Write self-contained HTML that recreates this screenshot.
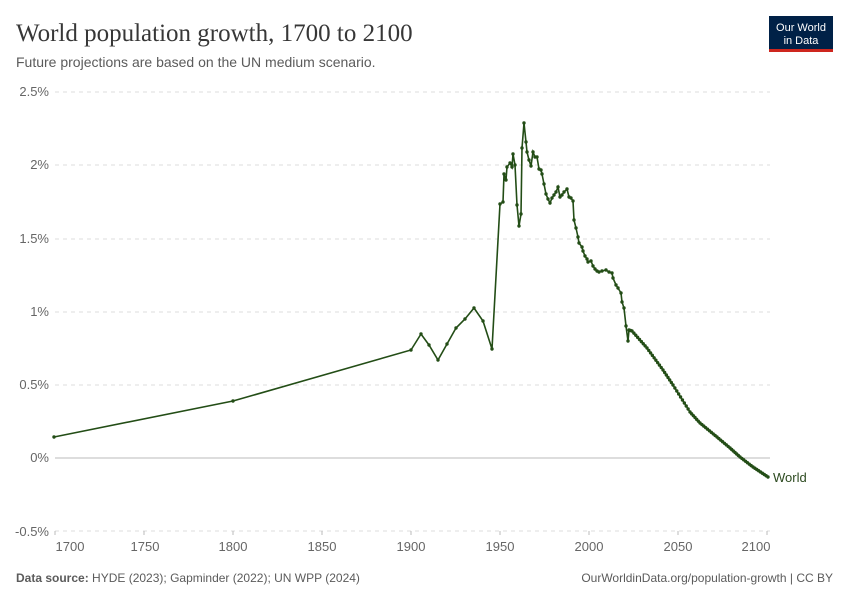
<!DOCTYPE html>
<html><head><meta charset="utf-8"><style>
body{margin:0;background:#fff;width:850px;height:600px;overflow:hidden;font-family:"Liberation Sans",sans-serif}
</style></head><body>
<svg width="850" height="600" xmlns="http://www.w3.org/2000/svg" id="s">
<text x="16" y="41" font-family="Liberation Serif,serif" font-size="25" fill="#373737">World population growth, 1700 to 2100</text>
<text x="16" y="67" font-size="14" fill="#5b5b5b">Future projections are based on the UN medium scenario.</text>
<rect x="769" y="16" width="64" height="34" fill="#002147"/>
<rect x="769" y="49" width="64" height="3" fill="#ce261e"/>
<text x="801" y="31" font-size="11" fill="#fff" text-anchor="middle">Our World</text>
<text x="801" y="44" font-size="11" fill="#fff" text-anchor="middle">in Data</text>
<g font-size="13" fill="#666" text-anchor="end">
<text x="49" y="96">2.5%</text><text x="49" y="169">2%</text><text x="49" y="243">1.5%</text>
<text x="49" y="316">1%</text><text x="49" y="389">0.5%</text><text x="49" y="462">0%</text><text x="49" y="536">-0.5%</text>
</g>
<g stroke="#ddd" stroke-dasharray="4,4">
<line x1="55" x2="770" y1="92" y2="92"/><line x1="55" x2="770" y1="165" y2="165"/><line x1="55" x2="770" y1="239" y2="239"/>
<line x1="55" x2="770" y1="312" y2="312"/><line x1="55" x2="770" y1="385" y2="385"/><line x1="55" x2="770" y1="531" y2="531"/>
</g>
<line x1="55" x2="770" y1="458" y2="458" stroke="#bbb"/>
<g stroke="#bbb"><line x1="55" x2="55" y1="531" y2="535"/><line x1="144" x2="144" y1="531" y2="535"/><line x1="233" x2="233" y1="531" y2="535"/><line x1="322" x2="322" y1="531" y2="535"/><line x1="411" x2="411" y1="531" y2="535"/><line x1="500" x2="500" y1="531" y2="535"/><line x1="589" x2="589" y1="531" y2="535"/><line x1="678" x2="678" y1="531" y2="535"/><line x1="767" x2="767" y1="531" y2="535"/></g>
<g font-size="13" fill="#666" text-anchor="middle">
<text x="70" y="551">1700</text><text x="145" y="551">1750</text><text x="233" y="551">1800</text><text x="322" y="551">1850</text>
<text x="411" y="551">1900</text><text x="500" y="551">1950</text><text x="589" y="551">2000</text><text x="678" y="551">2050</text><text x="756" y="551">2100</text>
</g>
<text x="773" y="482" font-size="13" fill="#2c4a1f">World</text>
<text x="16" y="582" font-size="12" fill="#5b5b5b"><tspan font-weight="bold">Data source:</tspan> HYDE (2023); Gapminder (2022); UN WPP (2024)</text>
<text x="833" y="582" font-size="12" fill="#5b5b5b" text-anchor="end">OurWorldinData.org/population-growth | CC BY</text>
<g id="g"></g>
</svg>
<script>
var p=[[54,437],[233,401],[411,350],[421,334],[429,345],[438,360],[447,344],[456,328],[465,319],[474,308],[483,321],[492,349],[500,204],[503,202],[504,174],[506,180],[507,167],[510,163],[512,167],[513,154],[515,165],[517,205],[519,226],[521,214],[522,148],[524,123],[526,142],[527,152],[529,160],[531,166],[533,152],[535,157],[537,157],[539,169],[541,170],[542,174],[544,184],[546,194],[548,199],[550,203],[552,198],[554,195],[556,192],[558,187],[560,197],[562,195],[564,192],[567,189],[569,197],[571,198],[573,201],[574,220],[576,228],[578,237],[579,243],[582,247],[583,251],[585,256],[587,259],[588,262],[591,261],[593,266],[595,269],[597,271],[599,272],[602,271],[606,270],[609,272],[612,273],[613,278],[616,285],[618,288],[621,293],[622,302],[624,308],[626,326],[628,341],[629,330]];
var proj=[[629,330],[632,331],[647,348],[663,370],[673,385],[690,412],[700,423],[717,437],[730,448],[740,457],[753,467],[768,477]];
var pts=p.slice();
for(var i=0;i<proj.length-1;i++){var a=proj[i],b=proj[i+1],n=Math.max(1,Math.round((b[0]-a[0])/1.8));for(var k=1;k<=n;k++)pts.push([a[0]+(b[0]-a[0])*k/n,a[1]+(b[1]-a[1])*k/n]);}
var ns="http://www.w3.org/2000/svg",g=document.getElementById("g");
var pl=document.createElementNS(ns,"polyline");pl.setAttribute("points",pts.map(function(q){return q.join(",")}).join(" "));
pl.setAttribute("fill","none");pl.setAttribute("stroke","#234d16");pl.setAttribute("stroke-width","1.6");g.appendChild(pl);
pts.forEach(function(q){var c=document.createElementNS(ns,"circle");c.setAttribute("cx",q[0]);c.setAttribute("cy",q[1]);c.setAttribute("r","1.7");c.setAttribute("fill","#234d16");g.appendChild(c);});
</script>
</body></html>
